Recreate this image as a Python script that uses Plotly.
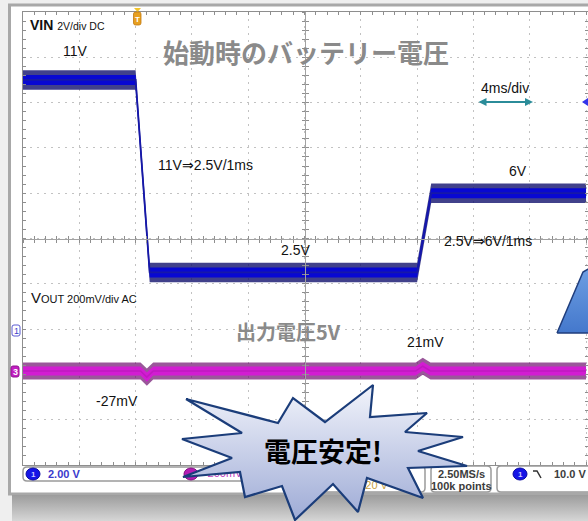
import plotly.graph_objects as go

# ---------------- data (time in ms after trigger) ----------------
# Channel 1: VIN, battery voltage while cranking (V)
vin_t = [-8, 0, 1, 20, 21, 32]
vin_v = [11, 11, 2.5, 2.5, 6, 6]
vin_core = 0.22     # half width of the dense part of the noise band (V)
vin_peak = 0.43     # half width including spikes (V)

# Channel 3: VOUT ripple, AC coupled (mV)
vout_t = [-8, 0.35, 0.8, 1.25, 19.9, 20.4, 20.95, 32]
vout_mv = [0, 0, -27, 0, 0, 21, 0, 0]
vout_core = 20
vout_peak = 38

# scope settings
t_range = [-8, 32.14]        # 4 ms/div
ch1_range = [-6, 14]         # 2 V/div, ground 2 div below centre
ch3_range = [-415, 1585]     # 200 mV/div

W, H = 588, 521
GRID = "#c2c2c2"
BORDER = "#8e8e8e"
CROSS = "#a2a2a2"
LAT = "Liberation Sans, Arial, sans-serif"
CJK = "Noto Sans CJK JP, sans-serif"

# graticule box in pixels
GX0, GY0, GY1 = 23, 12, 465
px = lambda x: x / W
py = lambda y: 1 - y / H

fig = go.Figure()

# ---------------- traces ----------------
def band(t, v, half, color, yaxis):
    lo = [a - half for a in v]
    hi = [a + half for a in v]
    fig.add_trace(go.Scatter(x=t, y=lo, mode="lines", line=dict(width=0),
                             yaxis=yaxis, hoverinfo="skip", showlegend=False))
    fig.add_trace(go.Scatter(x=t, y=hi, mode="lines", line=dict(width=0),
                             fill="tonexty", fillcolor=color, yaxis=yaxis,
                             hoverinfo="skip", showlegend=False))

band(vin_t, vin_v, vin_peak, "rgba(18,18,110,0.8)", "y")
band(vin_t, vin_v, vin_core, "#0808d2", "y")
fig.add_trace(go.Scatter(x=vin_t, y=vin_v, mode="lines",
                         line=dict(color="#1618a8", width=1.8),
                         hoverinfo="skip", showlegend=False))

band(vout_t, vout_mv, vout_peak, "rgba(115,22,115,0.72)", "y2")
band(vout_t, vout_mv, vout_core, "#d21cd2", "y2")
fig.add_trace(go.Scatter(x=vout_t, y=vout_mv, mode="lines",
                         line=dict(color="#c018c0", width=1.5), yaxis="y2",
                         hoverinfo="skip", showlegend=False))

# anchors for the centre crosshair axes
for xa, ya in [("x2", "y"), ("x3", "y"), ("x", "y3"), ("x", "y4")]:
    fig.add_trace(go.Scatter(x=[None], y=[None], xaxis=xa, yaxis=ya,
                             showlegend=False, hoverinfo="skip"))

# ---------------- overlay layer in pixel units ----------------
OV = dict(xaxis="x9", yaxis="y9", hoverinfo="skip", showlegend=False)

# drop shadow under the screenshot frame
fig.add_trace(go.Scatter(x=[12, 600, 600, 12], y=[495, 495, 521, 521],
                         mode="lines", line=dict(width=0), fill="toself",
                         fillgradient=dict(type="vertical", start=495, stop=521,
                                           colorscale=[[0, "#9c9c9c"], [1, "#d6d6d6"]]),
                         **OV))

# status readouts partly hidden by the callout
fig.add_trace(go.Scatter(x=[225, 372], y=[474, 486], mode="text",
                         text=["200mV", "0.20 V"],
                         textfont=dict(family=LAT, size=11, color=["#c040c0", "#c8a040"]),
                         **OV))

# starburst callout
star_x = [186, 278, 293, 325, 373, 370, 427, 405, 463, 418, 467, 408, 423, 367,
          358, 333, 295, 282, 245, 240, 183, 232, 182, 242, 186]
star_y = [399, 423, 398, 422, 385, 417, 413, 432, 437, 451, 466, 468, 498, 478,
          512, 484, 520, 486, 497, 472, 477, 458, 439, 433, 399]
fig.add_trace(go.Scatter(x=star_x, y=star_y, mode="lines", fill="toself",
                         line=dict(color="#1b3d7a", width=2.2),
                         fillgradient=dict(type="vertical", start=385, stop=520,
                                           colorscale=[[0, "#f2f4fb"], [1, "#9eabd6"]]),
                         **OV))

# speech-bubble tail on the right edge
fig.add_trace(go.Scatter(x=[557, 583, 620, 620, 557], y=[333, 272, 250, 333, 333],
                         mode="lines", fill="toself",
                         line=dict(color="#1f3d7c", width=1.5),
                         fillgradient=dict(type="vertical", start=270, stop=333,
                                           colorscale=[[0, "#6c9de2"], [1, "#4478cc"]]),
                         **OV))

# ---------------- shapes ----------------
def rrect(x0, y0, x1, y1, r):
    return (f"M{x0+r},{y0} L{x1-r},{y0} Q{x1},{y0} {x1},{y0+r} L{x1},{y1-r} "
            f"Q{x1},{y1} {x1-r},{y1} L{x0+r},{y1} Q{x0},{y1} {x0},{y1-r} "
            f"L{x0},{y0+r} Q{x0},{y0} {x0+r},{y0} Z")

shapes = [
    # page background and screenshot frame
    dict(type="rect", xref="paper", yref="paper", x0=0, x1=1, y0=0, y1=1,
         fillcolor="#efefef", line=dict(width=0), layer="below"),
    dict(type="rect", xref="paper", yref="paper", x0=px(9.5), x1=1.05,
         y0=py(494), y1=py(5), fillcolor="white",
         line=dict(color="#a8a8a8", width=3), layer="below"),
]
P = dict(xref="x9", yref="y9", layer="below")
# status bar boxes
for (x0, y0, x1, y1) in [(23, 467, 300, 481), (306, 466, 425, 492),
                         (431, 466, 491, 492), (497, 466, 640, 492)]:
    shapes.append(dict(type="path", path=rrect(x0, y0, x1, y1, 4),
                       fillcolor="white", line=dict(color="#9a9a9a", width=1.5), **P))
# channel badges in the status bar
shapes.append(dict(type="circle", x0=26, x1=40, y0=468, y1=480,
                   fillcolor="#1414e6", line=dict(color="#0a0aa0", width=1), **P))
shapes.append(dict(type="circle", x0=184, x1=198, y0=468, y1=480,
                   fillcolor="#b41cb4", line=dict(color="#801080", width=1), **P))
shapes.append(dict(type="circle", x0=513, x1=527, y0=468, y1=480,
                   fillcolor="#1414e6", line=dict(color="#0a0aa0", width=1), **P))
# falling-edge trigger slope symbol
shapes.append(dict(type="path", path="M533,471 L537,471 L541,478",
                   line=dict(color="#303030", width=1.5), **P))
# ground markers on the left edge
shapes.append(dict(type="path", path=rrect(12, 325, 20, 336, 2), fillcolor="white",
                   line=dict(color="#5a5ad2", width=1), **P))
shapes.append(dict(type="path", path=rrect(11, 366, 19, 377, 2), fillcolor="#c21ec2",
                   line=dict(color="#901090", width=1), **P))
# trigger position marker and trigger level marker
shapes.append(dict(type="path", path="M134,8 L141,8 L137.5,12 Z", fillcolor="#f2c42a",
                   line=dict(width=0), **P))
shapes.append(dict(type="path", path=rrect(133.5, 12, 141, 25, 2), fillcolor="#e8a020",
                   line=dict(color="#c07810", width=0.8), **P))
shapes.append(dict(type="path", path="M582,102 L588,98 L588,106 Z", fillcolor="#3434ea",
                   line=dict(width=0), **P))

# ---------------- annotations ----------------
ann = []
def text(x, y, s, size=14, color="#111111", family=LAT, xanchor="center", **kw):
    ann.append(dict(x=x, y=y, xref="x9", yref="y9", text=s, showarrow=False,
                    xanchor=xanchor, yanchor="middle",
                    font=dict(family=family, size=size, color=color), **kw))

text(28, 25, "<b>VIN</b> <span style='font-size:10.5px'>2V/div DC</span>", 14, xanchor="left")
text(29, 297, "V<span style='font-size:11px'>OUT 200mV/div AC</span>", 15, xanchor="left")
text(306, 51, "<b>始動時のバッテリー電圧</b>", 26, "#8a8a8a", CJK)
text(288, 331, "<b>出力電圧5V</b>", 20, "#8a8a8a", CJK)
text(75, 51, "11V")
text(205, 165, "11V⇒2.5V/1ms")
text(295, 250, "2.5V")
text(518, 171, "6V")
text(488, 241, "2.5V⇒6V/1ms")
text(505, 88, "4ms/div")
text(425, 342, "21mV")
text(117, 401, "-27mV")
text(323, 450, "<b>電圧安定!</b>", 27, "#000000", CJK)
# status bar readouts
text(64, 474, "<b>2.00 V</b>", 11, "#3a3acc")
text(461, 474, "<b>2.50MS/s</b>", 11, "#3c3c3c")
text(461, 486, "<b>100k points</b>", 11, "#3c3c3c")
text(570, 474, "<b>10.0 V</b>", 11, "#3c3c3c")
text(33, 474, "<b>1</b>", 8, "#c8c8ff")
text(520, 474, "<b>1</b>", 8, "#c8c8ff")
text(16, 330.5, "1", 9, "#4040c8")
text(15, 371.5, "<b>3</b>", 9, "white")
text(137.3, 19, "<b>T</b>", 8, "white")
# 4 ms/div double arrow
ann.append(dict(x=533, y=102, ax=477, ay=102, xref="x9", yref="y9", axref="x9", ayref="y9",
                text="", showarrow=True, arrowside="end+start", arrowhead=2,
                startarrowhead=2, arrowwidth=2, arrowsize=0.8, startarrowsize=0.8,
                arrowcolor="#2b8c99"))

# ---------------- axes ----------------
yc = py((GY0 + GY1) / 2)
xc = px(305)
common_x = dict(range=t_range, showticklabels=False, zeroline=False, fixedrange=True)
common_y = dict(range=ch1_range, showticklabels=False, zeroline=False, fixedrange=True)
minor_x = lambda t: dict(dtick=0.8, tick0=-8, ticks=t, ticklen=3, tickcolor=BORDER, showgrid=False)
minor_y = lambda t: dict(dtick=0.4, tick0=-6, ticks=t, ticklen=3, tickcolor=BORDER, showgrid=False)

fig.update_layout(
    width=W, height=H, autosize=False,
    margin=dict(l=0, r=0, t=0, b=0, pad=0),
    paper_bgcolor="white", plot_bgcolor="rgba(0,0,0,0)",
    showlegend=False, shapes=shapes, annotations=ann,
    xaxis=dict(domain=[px(GX0), 1], dtick=4, tick0=-8, showgrid=True, gridcolor=GRID,
               griddash="2px,5px", showline=True, linecolor=BORDER, linewidth=1,
               mirror="allticks", ticks="inside", ticklen=3, tickcolor=BORDER,
               minor=minor_x("inside"), anchor="y", **common_x),
    yaxis=dict(domain=[py(GY1), py(GY0)], dtick=2, tick0=-6, showgrid=True, gridcolor=GRID,
               griddash="2px,5px", showline=True, linecolor=BORDER, linewidth=1,
               mirror="allticks", ticks="inside", ticklen=3, tickcolor=BORDER,
               minor=minor_y("inside"), anchor="x", **common_y),
    yaxis2=dict(overlaying="y", range=ch3_range, visible=False, fixedrange=True),
    xaxis2=dict(overlaying="x", anchor="free", position=yc, dtick=4, tick0=-8,
                showline=True, linecolor=CROSS, ticks="outside", ticklen=3, tickcolor=BORDER,
                showgrid=False, minor=minor_x("outside"), **common_x),
    xaxis3=dict(overlaying="x", anchor="free", position=yc, dtick=4, tick0=-8,
                showline=True, linecolor=CROSS, ticks="inside", ticklen=3, tickcolor=BORDER,
                showgrid=False, minor=minor_x("inside"), **common_x),
    yaxis3=dict(overlaying="y", anchor="free", position=xc, dtick=2, tick0=-6,
                showline=True, linecolor=CROSS, ticks="outside", ticklen=3, tickcolor=BORDER,
                showgrid=False, minor=minor_y("outside"), **common_y),
    yaxis4=dict(overlaying="y", anchor="free", position=xc, dtick=2, tick0=-6,
                showline=True, linecolor=CROSS, ticks="inside", ticklen=3, tickcolor=BORDER,
                showgrid=False, minor=minor_y("inside"), **common_y),
    xaxis9=dict(domain=[0, 1], range=[0, W], visible=False, anchor="y9", fixedrange=True),
    yaxis9=dict(domain=[0, 1], range=[H, 0], visible=False, anchor="x9", fixedrange=True),
)

fig.write_html("out.html")
